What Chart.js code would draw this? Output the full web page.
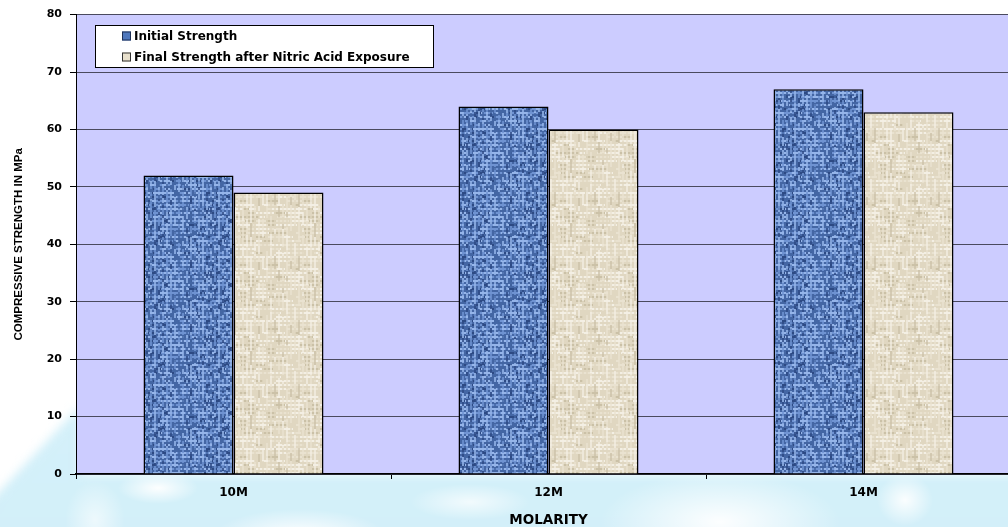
<!DOCTYPE html>
<html>
<head>
<meta charset="utf-8">
<title>Compressive Strength vs Molarity</title>
<script src="https://cdn.jsdelivr.net/npm/chart.js@4.4.1/dist/chart.umd.min.js"></script>
<style>
  html, body { margin: 0; padding: 0; background: #fff; overflow: hidden; }
  .wrap { position: relative; width: 1008px; height: 527px; overflow: hidden; background: #fff; }
  .soft { position: absolute; left: 0; top: 0; width: 1008px; height: 527px; filter: blur(5px); }
  .tint {
    position: absolute; left: -20px; top: 0; width: 1048px; height: 560px;
    background: linear-gradient(#d9f3fb, #d2eff9);
    clip-path: polygon(0 512px, 100px 406px, 100px 474px, 1048px 474px, 1048px 560px, 0 560px);
  }
  .swirl {
    position: absolute; left: 0; top: 0; width: 1008px; height: 527px;
    background-image:
      radial-gradient(ellipse 40px 16px at 158px 488px, rgba(255,255,255,0.95), rgba(255,255,255,0) 100%),
      radial-gradient(ellipse 85px 26px at 300px 535px, rgba(255,255,255,0.95), rgba(255,255,255,0) 100%),
      radial-gradient(ellipse 120px 50px at 720px 522px, rgba(255,255,255,0.95), rgba(255,255,255,0) 100%),
      radial-gradient(ellipse 28px 26px at 905px 500px, rgba(255,255,255,0.9), rgba(255,255,255,0) 100%),
      radial-gradient(ellipse 60px 18px at 470px 502px, rgba(255,255,255,0.7), rgba(255,255,255,0) 100%),
      radial-gradient(ellipse 30px 40px at 95px 520px, rgba(255,255,255,0.6), rgba(255,255,255,0) 100%);
  }
  canvas { display: block; position: relative; }
</style>
</head>
<body>
<div class="wrap">
  <div class="soft"><div class="tint"></div></div>
  <div class="swirl"></div>
  <canvas id="chart" width="1030" height="527" style="width:1030px;height:527px"></canvas>
</div>
<script>
// Molarity categories and compressive strength (MPa)
const categories = ['10M', '12M', '14M'];
const initialStrength = [52, 64, 67];
const finalStrength = [49, 60, 63];
const seriesLabels = ['Initial Strength', 'Final Strength after Nitric Acid Exposure'];
const yTicks = [0, 10, 20, 30, 40, 50, 60, 70, 80];

const canvas = document.getElementById('chart');
const ctx = canvas.getContext('2d');

// Woven fabric-like fill: crossing thread segments on a base colour (seeded, repeatable)
function weave(size, base, tones, seed, cell, segMin, segMax, alphaV) {
  const c = document.createElement('canvas');
  c.width = c.height = size;
  const g = c.getContext('2d');
  g.fillStyle = base;
  g.fillRect(0, 0, size, size);
  let s = seed;
  const rnd = () => { s = (s * 16807) % 2147483647; return s / 2147483647; };
  const pick = () => {
    let r = rnd();
    for (const t of tones) { if (r < t[1]) return t[0]; r -= t[1]; }
    return base;
  };
  // horizontal threads
  for (let y = 0; y < size; y += cell) {
    let x = 0;
    while (x < size) {
      const len = segMin + Math.floor(rnd() * (segMax - segMin + 1));
      g.fillStyle = pick();
      g.fillRect(x, y, Math.min(len, size - x), 2);
      x += len;
    }
  }
  // vertical threads
  g.globalAlpha = alphaV;
  for (let x = Math.floor(cell / 2); x < size; x += cell) {
    let y = 0;
    while (y < size) {
      const len = segMin + Math.floor(rnd() * (segMax - segMin + 1));
      g.fillStyle = pick();
      g.fillRect(x, y, 2, Math.min(len, size - y));
      y += len;
    }
  }
  g.globalAlpha = 1;
  return ctx.createPattern(c, 'repeat');
}

const bluePattern = weave(64, '#4466a4',
  [['#95b5ea', 0.40], ['#6f93d2', 0.30], ['#2d4a84', 0.13]], 12345, 4, 2, 5, 0.8);
const beigePattern = weave(64, '#e0d7c1',
  [['#f3efe4', 0.30], ['#e9e2d0', 0.34], ['#cbc1a7', 0.08]], 67890, 4, 3, 14, 0.7);

const plotBackground = {
  id: 'plotBackground',
  beforeDraw(chart) {
    const { ctx, chartArea: a } = chart;
    ctx.save();
    ctx.fillStyle = '#ccccff';
    ctx.fillRect(a.left, a.top, a.right - a.left, a.bottom - a.top);
    ctx.restore();
  }
};

// Boxed legend drawn inside the plot area
const boxLegend = {
  id: 'boxLegend',
  afterDraw(chart, args, opts) {
    const { ctx } = chart;
    ctx.save();
    ctx.fillStyle = '#ffffff';
    ctx.fillRect(opts.x, opts.y, opts.w, opts.h);
    ctx.strokeStyle = '#000';
    ctx.lineWidth = 1;
    ctx.strokeRect(opts.x + 0.5, opts.y + 0.5, opts.w, opts.h);
    ctx.font = opts.font;
    ctx.textBaseline = 'middle';
    chart.data.datasets.forEach((ds, i) => {
      const cy = opts.y + opts.firstRow + i * opts.rowGap;
      ctx.fillStyle = ds.legendColor;
      ctx.fillRect(opts.swatchX, cy - 4.5, 9, 9);
      ctx.strokeStyle = ds.legendBorder;
      ctx.strokeRect(opts.swatchX + 0.5, cy - 4, 8, 8);
      ctx.fillStyle = '#000';
      ctx.fillText(ds.label, opts.textX, cy + 0.5);
    });
    ctx.restore();
  }
};

new Chart(ctx, {
  type: 'bar',
  data: {
    labels: categories,
    datasets: [
      {
        label: seriesLabels[0],
        data: initialStrength,
        backgroundColor: bluePattern,
        borderColor: '#000',
        borderWidth: 1.5,
        legendColor: '#4f78bd',
        legendBorder: '#1d2f55'
      },
      {
        label: seriesLabels[1],
        data: finalStrength,
        backgroundColor: beigePattern,
        borderColor: '#000',
        borderWidth: 1.5,
        legendColor: '#e8e0cc',
        legendBorder: '#333'
      }
    ]
  },
  options: {
    responsive: false,
    animation: false,
    layout: { padding: { left: 0, top: 12, right: 9, bottom: 0 } },
    datasets: { bar: { categoryPercentage: 0.5714, barPercentage: 1.0 } },
    plugins: {
      legend: { display: false },
      tooltip: { enabled: false },
      boxLegend: {
        x: 95, y: 25, w: 338, h: 42,
        swatchX: 122, textX: 134, firstRow: 11, rowGap: 21,
        font: 'bold 12px "DejaVu Sans"'
      }
    },
    scales: {
      x: {
        afterFit(scale) { scale.height = 53; },
        grid: { drawOnChartArea: false, drawTicks: true, tickLength: 5, tickColor: '#000', offset: true },
        border: { color: '#000', width: 1.5 },
        ticks: { color: '#000', padding: 7, font: { family: 'DejaVu Sans', weight: 'bold', size: 12 } },
        title: {
          display: true, text: 'MOLARITY', color: '#000',
          padding: { top: 0, bottom: 0 },
          font: { family: 'DejaVu Sans', weight: 'bold', size: 13.5, lineHeight: 1 }
        }
      },
      y: {
        min: 0, max: 80,
        afterFit(scale) { scale.width = 76; },
        afterBuildTicks(scale) { scale.ticks = yTicks.map(v => ({ value: v })); },
        grid: { color: '#4a4a5e', lineWidth: 1, tickLength: 6, tickColor: '#000' },
        border: { color: '#000', width: 1 },
        ticks: { color: '#000', padding: 8, font: { family: 'DejaVu Sans', weight: 'bold', size: 11 } },
        title: {
          display: true, text: 'COMPRESSIVE STRENGTH IN MPa', color: '#000',
          padding: { top: 12, bottom: 0 },
          font: { family: 'Liberation Sans', weight: 'bold', size: 11.5 }
        }
      }
    }
  },
  plugins: [plotBackground, boxLegend]
});
</script>
</body>
</html>
